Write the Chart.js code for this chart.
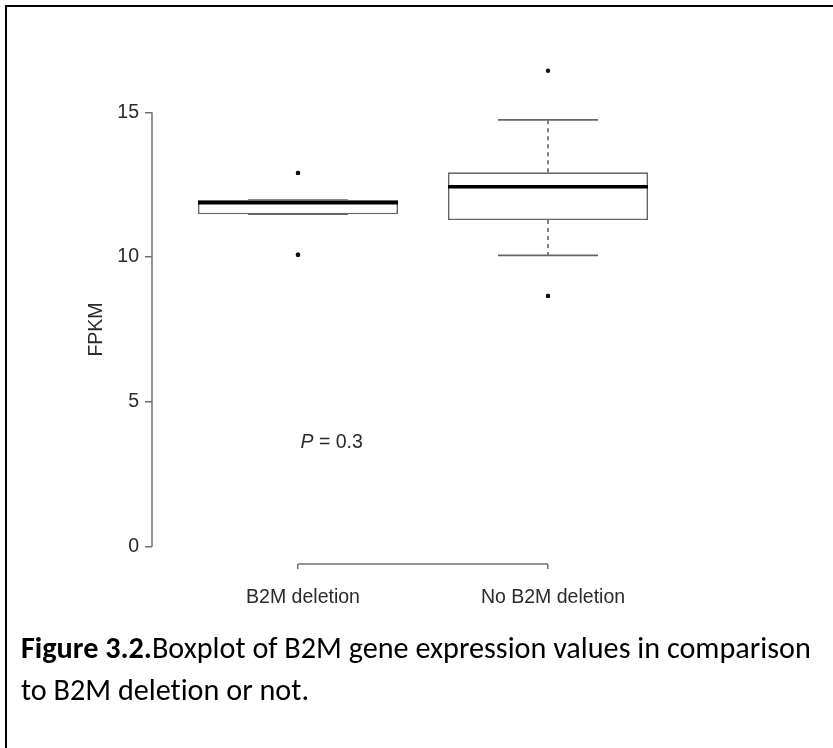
<!DOCTYPE html>
<html><head><meta charset="utf-8">
<script src="https://cdn.jsdelivr.net/npm/chart.js@4/dist/chart.umd.min.js"></script>
<style>
html,body{margin:0;padding:0;background:#fff;width:833px;height:748px;overflow:hidden;}
#wrap{position:absolute;left:0;top:0;width:833px;height:748px;}
#frame{position:absolute;left:5px;top:5px;width:828px;height:743px;border-left:2px solid #000;border-top:2px solid #000;box-sizing:border-box;pointer-events:none;}
#cap{position:absolute;left:21px;top:627px;font-family:'Carlito','Open Sans',sans-serif;color:#000;white-space:nowrap;line-height:42px;font-size:24px;font-variant-ligatures:none;}
</style></head><body>
<div id="wrap"><canvas id="c" width="833" height="748"></canvas></div>
<div id="frame"></div>
<div id="cap"><div><span id="l1"><b>Figure 3.2.</b>Boxplot of B2M gene expression values in comparison</span></div><div><span>to B2M deletion or not.</span></div></div>
<script>
// ---- data ----
const categories = ['B2M deletion', 'No B2M deletion'];
const positions = [1, 2];
const q1 = [11.48, 11.28];
const q3 = [11.97, 12.93];
const medians = [11.88, 12.43];
const whiskerLow = [11.48, 10.06];
const whiskerHigh = [11.97, 14.74];
const outliersGroup1 = [12.91, 10.08];
const outliersGroup2 = [16.44, 8.66];
const yTicks = [0, 5, 10, 15];
const yTitle = 'FPKM';
const pItalic = 'P';
const pRest = ' = 0.3';
const pAnchor = {x: 1.01, y: 3.6};

// caption fit
(function(){
  const l1 = document.getElementById('l1');
  const w = l1.getBoundingClientRect().width;
  const target = 790;
  document.getElementById('cap').style.fontSize = (24 * target / w).toFixed(2) + 'px';
})();

const FONT = 'Liberation Sans';
const txtColor = '#2a2a2a';
const lineGray = '#707070';

function seg(ctx, x1, y1, x2, y2){ ctx.beginPath(); ctx.moveTo(x1,y1); ctx.lineTo(x2,y2); ctx.stroke(); }

const boxPlugin = {
  id: 'rbox',
  afterDatasetsDraw(chart){
    const {ctx, scales:{x, y}} = chart;
    const meta = chart.getDatasetMeta(0);
    ctx.save();
    positions.forEach((p, i) => {
      const bar = meta.data[i];
      const cx = x.getPixelForValue(p);
      const half = bar.width / 2;
      const capHalf = half / 2;
      const yQ1 = y.getPixelForValue(q1[i]);
      const yQ3 = y.getPixelForValue(q3[i]);
      const yLo = y.getPixelForValue(whiskerLow[i]);
      const yHi = y.getPixelForValue(whiskerHigh[i]);
      const yMed = y.getPixelForValue(medians[i]);
      ctx.strokeStyle = '#555'; ctx.lineWidth = 1.5; ctx.setLineDash([4, 4]);
      if (Math.abs(yHi - yQ3) > 1) seg(ctx, cx, yQ3, cx, yHi);
      if (Math.abs(yLo - yQ1) > 1) seg(ctx, cx, yQ1, cx, yLo);
      ctx.setLineDash([]);
      ctx.strokeStyle = '#666'; ctx.lineWidth = 1.6;
      seg(ctx, cx - capHalf, yHi, cx + capHalf, yHi);
      seg(ctx, cx - capHalf, yLo, cx + capHalf, yLo);
      ctx.strokeStyle = '#000'; ctx.lineWidth = 3.5;
      seg(ctx, cx - half, yMed, cx + half, yMed);
    });
    // outlier points lying outside the chart area (library skips them otherwise)
    chart.getDatasetMeta(1).data.forEach(el => el.draw(ctx));
    // R-style axis lines
    ctx.strokeStyle = lineGray; ctx.lineWidth = 1.5;
    seg(ctx, x.left, y.getPixelForValue(yTicks[0]), x.left, y.getPixelForValue(yTicks[yTicks.length - 1]));
    seg(ctx, x.getPixelForValue(positions[0]), y.bottom, x.getPixelForValue(positions[positions.length - 1]), y.bottom);
    // P-value annotation
    const px = x.getPixelForValue(pAnchor.x), py = y.getPixelForValue(pAnchor.y);
    ctx.fillStyle = txtColor; ctx.textBaseline = 'middle'; ctx.textAlign = 'left';
    ctx.font = 'italic 19.5px "' + FONT + '"';
    ctx.fillText(pItalic, px, py);
    const w = ctx.measureText(pItalic).width;
    ctx.font = '19.5px "' + FONT + '"';
    ctx.fillText(pRest, px + w, py);
    ctx.restore();
  }
};

const boxData = positions.map((p, i) => ({x: p, y: [q1[i], q3[i]]}));
const outlierData = [
  ...outliersGroup1.map(v => ({x: positions[0], y: v})),
  ...outliersGroup2.map(v => ({x: positions[1], y: v}))
];

new Chart(document.getElementById('c'), {
  type: 'bar',
  data: {
    datasets: [
      {type: 'bar', data: boxData, backgroundColor: '#fff', borderColor: '#666', borderWidth: 1.6,
       borderSkipped: false, barPercentage: 0.8, categoryPercentage: 1, order: 2},
      {type: 'scatter', data: outlierData, pointRadius: 2.2, pointBackgroundColor: '#111',
       pointBorderWidth: 0, clip: false, order: 1}
    ]
  },
  options: {
    responsive: false, animation: false, events: [],
    layout: {padding: {left: 0, right: 140, top: 95, bottom: 124}},
    plugins: {legend: {display: false}, tooltip: {enabled: false}},
    scales: {
      x: {
        type: 'linear', min: 0.416, max: 2.58, offset: false,
        afterBuildTicks(s){ s.ticks = positions.map(v => ({value: v})); },
        afterFit(s){ s.height = 60; },
        grid: {display: true, offset: false, drawOnChartArea: false, drawTicks: true, tickLength: 5, color: lineGray, lineWidth: 1.5},
        border: {display: false},
        ticks: {callback: (v) => categories[positions.indexOf(v)], font: {family: FONT, size: 19.5},
                color: txtColor, padding: 17, maxRotation: 0, autoSkip: false, labelOffset: 5}
      },
      y: {
        min: -0.6, max: 15.6,
        afterBuildTicks(s){ s.ticks = yTicks.map(v => ({value: v})); },
        afterFit(s){ s.width = 152; },
        grid: {display: true, drawOnChartArea: false, drawTicks: true, tickLength: 7, color: lineGray, lineWidth: 1.5},
        border: {display: false},
        ticks: {font: {family: FONT, size: 19.5}, color: txtColor, padding: 6},
        title: {display: true, text: yTitle, font: {family: FONT, size: 19.5}, color: txtColor, padding: {top: 85, bottom: 0}}
      }
    }
  },
  plugins: [boxPlugin]
});
</script>
</body></html>
